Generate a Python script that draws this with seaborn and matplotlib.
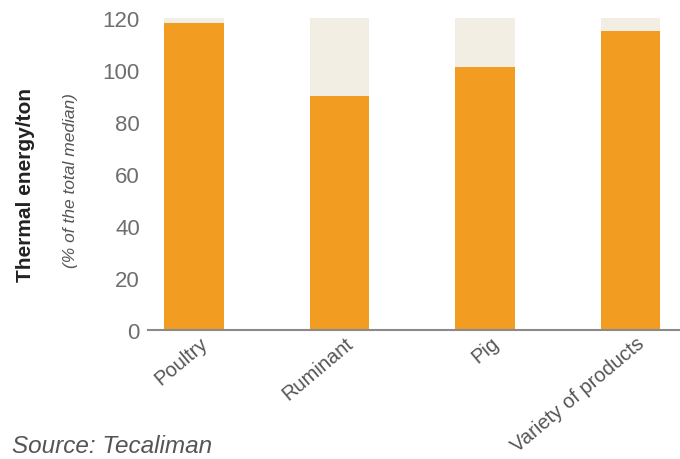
import matplotlib
matplotlib.use("Agg")
import matplotlib.pyplot as plt
import matplotlib.transforms as mtransforms
import seaborn as sns
import pandas as pd

categories = ["Poultry", "Ruminant", "Pig", "Variety of products"]
energy = [118, 90, 101, 115]
scale_max = [120, 120, 120, 120]
y_ticks = [0, 20, 40, 60, 80, 100, 120]

ORANGE = "#F29C22"
BEIGE = "#F3EEE3"
GREY = "#6E6E6E"

sns.set_theme(style="white")
plt.rcParams["font.family"] = ["Liberation Sans Narrow", "Liberation Sans", "DejaVu Sans"]

df = pd.DataFrame({"category": categories, "energy": energy, "scale": scale_max})

fig = plt.figure(figsize=(6.8, 4.6), dpi=100)
ax = fig.add_axes([0.218, 0.280, 0.782, 0.679])

# full-scale background bars, then the measured values on top
sns.barplot(data=df, x="category", y="scale", color=BEIGE, width=0.41,
            saturation=1, linewidth=0, ax=ax)
sns.barplot(data=df, x="category", y="energy", color=ORANGE, width=0.41,
            saturation=1, linewidth=0, ax=ax)

ax.set_ylim(0, 120)
ax.set_xlim(-0.315, 3.34)
ax.set_yticks(y_ticks)
ax.set_yticklabels([str(t) for t in y_ticks], fontsize=16, color=GREY)
ax.set_xticks(range(len(categories)))
ax.set_xticklabels(categories, rotation=40, ha="right", rotation_mode="anchor",
                   fontsize=14.5, color="#555555")
ax.tick_params(axis="y", length=0, pad=6)
ax.tick_params(axis="x", length=0, pad=2)
shift = mtransforms.ScaledTranslation(5 / 100, 0, fig.dpi_scale_trans)
for lbl in ax.get_xticklabels():
    lbl.set_transform(lbl.get_transform() + shift)
ax.set_xlabel("")
ax.set_ylabel("")

for side in ["left", "right", "top"]:
    ax.spines[side].set_visible(False)
ax.spines["bottom"].set_color("#8A8A8A")
ax.spines["bottom"].set_linewidth(1.5)

fig.text(0.038, 0.598, "Thermal energy/ton", rotation=90, ha="center", va="center",
         fontsize=15, fontweight="bold", color="#222222")
fig.text(0.103, 0.607, "(% of the total median)", rotation=90, ha="center", va="center",
         fontsize=12.5, fontstyle="italic", color="#555555")
fig.text(0.018, 0.03, "Source: Tecaliman", ha="left", va="center",
         fontsize=17.5, fontstyle="italic", color="#555555",
         family=["Liberation Sans", "DejaVu Sans"])

fig.savefig("out.png", dpi=100)
